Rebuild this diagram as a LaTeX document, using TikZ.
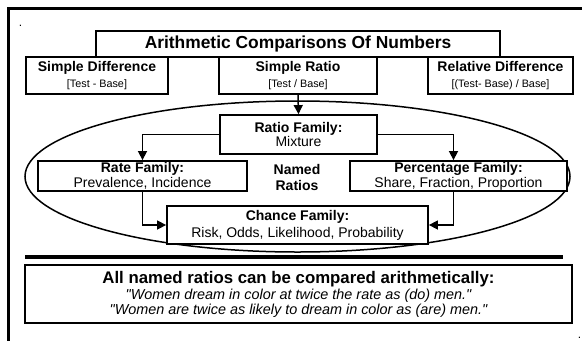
\documentclass[tikz,border=0pt]{standalone}
\usepackage{fontspec}
\setmainfont{Liberation Sans}
\usetikzlibrary{arrows.meta}
\newcommand\hdfont{\fontsize{14}{15}\selectfont\bfseries}
\newcommand\subfont{\fontsize{10.8}{15}\selectfont}
\newcommand\txtfont{\fontsize{14}{15}\selectfont}
\newcommand\qq{\textquotedbl}
\begin{document}
\begin{tikzpicture}[x=1pt,y=-1pt,
  box/.style={draw,line width=1.8pt,fill=white,inner sep=0pt,align=center,anchor=center,font=\fontsize{14}{15}\selectfont},
  conn/.style={line width=1.5pt,-{Triangle[length=9pt,width=9pt]}},
  frame/.style={line width=3.5pt},
  sep/.style={line width=4pt},
  dotmark/.style={inner sep=0pt,anchor=base,font=\fontsize{12}{12}\selectfont}]
\useasboundingbox (0,0) rectangle (582,341);
% outer frame
\draw[frame] (582,8.5) -- (8.5,8.5) -- (8.5,341);
\node[dotmark] (dotA) at (20.5,26) {.};
\node[dotmark] (dotB) at (579.5,338) {.};
% ellipse
\draw[line width=1.5pt] (297.5,176.5) ellipse [x radius=272.5pt, y radius=75.5pt];
% title and top boxes
\node[box,minimum width=404pt,minimum height=26pt,font=\fontsize{17.4}{20}\selectfont\bfseries] (title) at (298,44) {Arithmetic Comparisons Of Numbers};
\node[box,minimum width=142pt,minimum height=37pt] (sd) at (97,75.5) {\hdfont Simple Difference\\[1pt]{\subfont [Test - Base]}};
\node[box,minimum width=158pt,minimum height=37pt] (sr) at (298,75.5) {\hdfont Simple Ratio\\[1pt]{\subfont [Test / Base]}};
\node[box,minimum width=145pt,minimum height=37pt] (rd) at (500.5,75.5) {\hdfont Relative Difference\\[1pt]{\subfont [(Test- Base) / Base]}};
% ratio families
\node[box,minimum width=157pt,minimum height=39pt] (rf) at (298.5,134.5) {\hdfont Ratio Family:\\[-1pt]{\txtfont Mixture}};
\node[box,minimum width=209pt,minimum height=30pt] (rate) at (142.5,176) {\hdfont Rate Family:\\{\txtfont Prevalence, Incidence}};
\node[box,minimum width=217pt,minimum height=30pt] (perc) at (458.5,176) {\hdfont Percentage Family:\\{\txtfont Share, Fraction, Proportion}};
\node[box,minimum width=261pt,minimum height=38pt] (chance) at (297.5,225) {\hdfont Chance Family:\\[2pt]{\txtfont Risk, Odds, Likelihood, Probability}};
\node[inner sep=0pt,align=center,font=\hdfont] (named) at (297,177) {Named\\[1pt]Ratios};
% connectors
\draw[conn] (sr.south) -- (rf.north);
\draw[conn] (rf.west) -| (rate.north);
\draw[conn] (rf.east) -| ([xshift=-5pt]perc.north);
\draw[conn] (rate.south) |- (chance.west);
\draw[conn] ([xshift=-5pt]perc.south) |- (chance.east);
% separator and bottom box
\draw[sep] (25,257) -- (563,257);
\node[box,minimum width=547pt,minimum height=58pt] (bottom) at (298.5,294) {{\fontsize{16.8}{17}\selectfont\bfseries All named ratios can be compared arithmetically:}\\[1pt]
{\fontsize{14.4}{16}\selectfont\itshape \qq Women dream in color at twice the rate as (do) men.\qq}\\
{\fontsize{14.4}{16}\selectfont\itshape \qq Women are twice as likely to dream in color as (are) men.\qq}};
\end{tikzpicture}
\end{document}
